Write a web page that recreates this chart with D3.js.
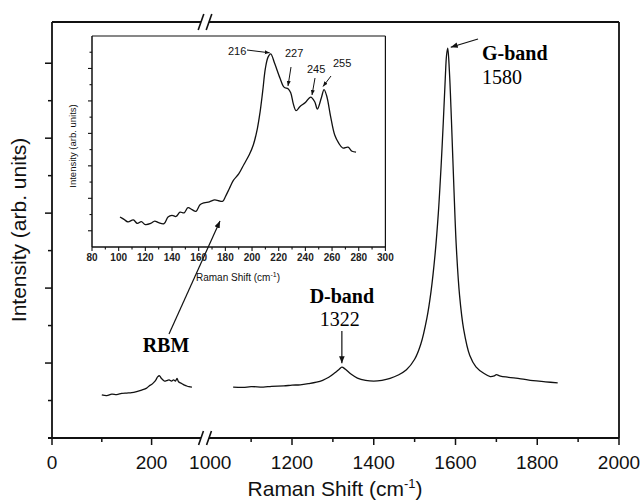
<!DOCTYPE html>
<html><head><meta charset="utf-8">
<script src="https://cdn.jsdelivr.net/npm/d3@7"></script>
<style>body{margin:0;background:#fff}svg{display:block}</style>
</head><body>
<svg id="c" width="643" height="503"></svg>
<script>
// ---- data ----
const rbmShift = [100,110,120,130,140,150,160,170,180,190,195,200,205,209,212,216,219,222,226,230,235,240,244,248,251,254,258,262,266,270,275,281];
const rbmInt   = [1.15,1.13,1.17,1.16,1.19,1.2,1.21,1.24,1.28,1.33,1.39,1.43,1.49,1.56,1.63,1.66,1.6,1.56,1.52,1.53,1.55,1.52,1.55,1.52,1.59,1.5,1.47,1.44,1.41,1.39,1.37,1.36];
const mainShift = [1056,1080,1100,1130,1150,1180,1200,1220,1240,1260,1275,1290,1305,1315,1322,1330,1345,1360,1380,1400,1420,1440,1460,1480,1500,1515,1530,1540,1550,1558,1565,1570,1575,1578,1581,1585,1590,1596,1602,1610,1620,1635,1650,1670,1685,1695,1700,1710,1730,1760,1790,1820,1850];
const mainInt   = [1.36,1.35,1.37,1.36,1.38,1.39,1.41,1.42,1.45,1.49,1.54,1.62,1.74,1.83,1.89,1.84,1.70,1.60,1.54,1.52,1.54,1.59,1.68,1.82,2.1,2.5,3.2,3.9,4.9,6.0,7.3,8.4,9.6,10.2,10.4,9.8,8.5,6.7,5.1,3.8,2.9,2.2,1.9,1.72,1.64,1.66,1.69,1.65,1.62,1.58,1.53,1.50,1.47];
const insetShift = [101,104,107,111,114,117,120,124,127,130,134,137,140,143,146,149,152,155,158,161,164,168,172,175,178,180,183,186,190,194,198,201,204,206,208,210,212,214,217,221,224,227,229,231,233,236,240,244,247,249,252,254,256,259,262,265,268,272,275,278];
const insetInt   = [1.85,1.7,1.55,1.67,1.45,1.56,1.38,1.45,1.6,1.5,1.44,1.85,1.95,1.88,2.15,2.1,2.42,2.3,2.2,2.6,2.72,2.78,2.9,2.85,2.82,3.1,3.6,4.1,4.5,5.1,5.7,6.3,7.3,8.3,9.6,11.0,11.7,11.9,11.3,10.4,9.85,9.75,9.5,8.8,8.4,8.66,8.9,9.24,8.95,8.5,9.2,9.7,9.3,8.0,6.9,6.4,6.1,6.15,5.9,5.85];
const xTicksLow = [0,200];
const xTicksHigh = [1000,1200,1400,1600,1800,2000];
const insetXTicks = [80,100,120,140,160,180,200,220,240,260,280,300];

const svg = d3.select('#c');
const L=52,R=619,T=22,B=438;
const x1 = d3.scaleLinear().domain([0,200]).range([52,151.6]);
const x2 = d3.scaleLinear().domain([1200,2000]).range([292,619]);
const y = d3.scaleLinear().domain([0,11.1]).range([B,T]);
const BRK=205;

// arrow marker
svg.append('defs').append('marker').attr('id','ah').attr('viewBox','0 0 10 10')
  .attr('refX',10).attr('refY',5).attr('markerWidth',7).attr('markerHeight',7)
  .attr('markerUnits','userSpaceOnUse').attr('orient','auto')
  .append('path').attr('d','M0,1 L10,5 L0,9 Z').attr('fill','#111');

const g = svg.append('g');
// frame
g.append('line').attr('x1',L).attr('x2',L).attr('y1',T).attr('y2',B).attr('stroke','#111').attr('stroke-width',1.8);
g.append('line').attr('x1',R).attr('x2',R).attr('y1',T).attr('y2',B).attr('stroke','#111').attr('stroke-width',1.8);
g.append('line').attr('x1',L-4).attr('x2',R).attr('y1',B).attr('y2',B).attr('stroke','#111').attr('stroke-width',1.8);
g.append('line').attr('x1',L).attr('x2',R).attr('y1',T).attr('y2',T).attr('stroke','#111').attr('stroke-width',1.8);

// x ticks
const tk = (xp,len)=>g.append('line').attr('x1',xp).attr('x2',xp).attr('y1',B).attr('y2',B+len).attr('stroke','#111').attr('stroke-width',1.5);
xTicksLow.forEach(v=>tk(x1(v),7)); tk(x1(100),4);
xTicksHigh.forEach(v=>{ if(v>1000) tk(x2(v),7); });
[1100,1300,1500,1700,1900].forEach(v=>tk(x2(v),4));
const lab = g.append('g').attr('font-family','Liberation Sans, Arial, sans-serif').attr('font-size',19).attr('fill','#111').attr('text-anchor','middle');
xTicksLow.forEach(v=>lab.append('text').attr('x',x1(v)).attr('y',469).text(v));
xTicksHigh.forEach(v=>lab.append('text').attr('x',x2(v)).attr('y',469).text(v));

// y ticks
d3.range(1,11).forEach(i=>{
  const len = i%2===0?7:4;
  g.append('line').attr('x1',L).attr('x2',L-len).attr('y1',y(i)).attr('y2',y(i)).attr('stroke','#111').attr('stroke-width',1.5);
});

// breaks
function brk(yy,h){
  g.append('polygon').attr('points',`${BRK-4-h*0.3},${yy+h} ${BRK+4-h*0.3+0},${yy+h} ${BRK+4+h*0.3},${yy-h} ${BRK-4+h*0.3},${yy-h}`).attr('fill','#fff');
  [-4,4].forEach(d=>g.append('line').attr('x1',BRK+d-h*0.35).attr('y1',yy+h).attr('x2',BRK+d+h*0.35).attr('y2',yy-h).attr('stroke','#111').attr('stroke-width',1.6));
}
brk(B,7); brk(T,8);

// axis titles
g.append('text').attr('transform',`translate(26,230) rotate(-90)`).attr('text-anchor','middle')
  .attr('font-family','Liberation Sans, Arial, sans-serif').attr('font-size',21).attr('fill','#111').text('Intensity (arb. units)');
const xt = g.append('text').attr('x',335).attr('y',496).attr('text-anchor','middle')
  .attr('font-family','Liberation Sans, Arial, sans-serif').attr('font-size',21).attr('fill','#111');
xt.append('tspan').text('Raman Shift (cm');
xt.append('tspan').attr('font-size',13).attr('dy',-8).text('-1');
xt.append('tspan').attr('dy',8).text(')');

// spectra
const ln1 = d3.line().x((d,i)=>x1(rbmShift[i])).y(d=>y(d)).curve(d3.curveCatmullRom);
const ln2 = d3.line().x((d,i)=>x2(mainShift[i])).y(d=>y(d)).curve(d3.curveCatmullRom);
g.append('path').attr('d',ln1(rbmInt)).attr('fill','none').attr('stroke','#111').attr('stroke-width',1.3);
g.append('path').attr('d',ln2(mainInt)).attr('fill','none').attr('stroke','#111').attr('stroke-width',1.3);

// annotations main
const serif = 'Liberation Serif, Times New Roman, serif';
g.append('text').attr('x',482).attr('y',60).attr('font-family',serif).attr('font-weight','bold').attr('font-size',20).text('G-band');
g.append('text').attr('x',482).attr('y',84).attr('font-family',serif).attr('font-size',20).text('1580');
g.append('line').attr('x1',478).attr('y1',39).attr('x2',x2(1581)+3).attr('y2',y(10.4)-1).attr('stroke','#111').attr('stroke-width',1.2).attr('marker-end','url(#ah)');
g.append('text').attr('x',x2(1322)).attr('y',303).attr('text-anchor','middle').attr('font-family',serif).attr('font-weight','bold').attr('font-size',20).text('D-band');
g.append('text').attr('x',x2(1322)-2).attr('y',326).attr('text-anchor','middle').attr('font-family',serif).attr('font-size',20).text('1322');
g.append('line').attr('x1',x2(1322)).attr('y1',331).attr('x2',x2(1322)).attr('y2',y(1.89)-4).attr('stroke','#111').attr('stroke-width',1.2).attr('marker-end','url(#ah)');
g.append('text').attr('x',166).attr('y',352).attr('text-anchor','middle').attr('font-family',serif).attr('font-weight','bold').attr('font-size',20).text('RBM');

// ---- inset ----
const IL=92, IR=385.4, IT=36, IB=247;
const ix = d3.scaleLinear().domain([80,300]).range([IL,IR]);
const iy = d3.scaleLinear().domain([0,13]).range([IB,IT]);
const ig = svg.append('g');
ig.append('line').attr('x1',IL).attr('x2',IR).attr('y1',IT).attr('y2',IT).attr('stroke','#111').attr('stroke-width',1.2);
ig.append('line').attr('x1',IR).attr('x2',IR).attr('y1',IT).attr('y2',IB).attr('stroke','#111').attr('stroke-width',1.2);
ig.append('line').attr('x1',IL).attr('x2',IL).attr('y1',IT).attr('y2',IB).attr('stroke','#111').attr('stroke-width',1.5);
ig.append('line').attr('x1',IL).attr('x2',IR).attr('y1',IB).attr('y2',IB).attr('stroke','#111').attr('stroke-width',1.5);
d3.range(80,301,10).forEach(v=>{
  const maj = v%20===0;
  ig.append('line').attr('x1',ix(v)).attr('x2',ix(v)).attr('y1',IB).attr('y2',IB+(maj?4:2.5)).attr('stroke','#111').attr('stroke-width',1.1);
});
const ilab = ig.append('g').attr('font-family','Liberation Sans, Arial, sans-serif').attr('font-size',10).attr('font-weight','bold').attr('fill','#222').attr('text-anchor','middle');
insetXTicks.forEach(v=>ilab.append('text').attr('x',ix(v)).attr('y',261).text(v));
d3.range(1,13).forEach(i=>{
  const maj = i%2===1;
  ig.append('line').attr('x1',IL).attr('x2',IL-(maj?4:2.5)).attr('y1',iy(i)).attr('y2',iy(i)).attr('stroke','#111').attr('stroke-width',1.1);
});
ig.append('text').attr('transform',`translate(76,146) rotate(-90)`).attr('text-anchor','middle')
  .attr('font-family','Liberation Sans, Arial, sans-serif').attr('font-size',9.5).attr('fill','#111').text('Intensity (arb. units)');
const ixt = ig.append('text').attr('x',238).attr('y',281).attr('text-anchor','middle')
  .attr('font-family','Liberation Sans, Arial, sans-serif').attr('font-size',10).attr('fill','#111');
ixt.append('tspan').text('Raman Shift (cm');
ixt.append('tspan').attr('font-size',7).attr('dy',-4).text('-1');
ixt.append('tspan').attr('dy',4).text(')');
const iln = d3.line().x((d,i)=>ix(insetShift[i])).y(d=>iy(d)).curve(d3.curveCatmullRom);
ig.append('path').attr('d',iln(insetInt)).attr('fill','none').attr('stroke','#111').attr('stroke-width',1.3);

// inset annotations
const af = ig.append('g').attr('font-family','Liberation Sans, Arial, sans-serif').attr('font-size',11).attr('fill','#111');
af.append('text').attr('x',228).attr('y',55).text('216');
af.append('text').attr('x',285).attr('y',57).text('227');
af.append('text').attr('x',307).attr('y',73).text('245');
af.append('text').attr('x',333).attr('y',67).text('255');
const ar = (a,b,c,d)=>ig.append('line').attr('x1',a).attr('y1',b).attr('x2',c).attr('y2',d).attr('stroke','#111').attr('stroke-width',1).attr('marker-end','url(#ah2)');
svg.select('defs').append('marker').attr('id','ah2').attr('viewBox','0 0 10 10')
  .attr('refX',10).attr('refY',5).attr('markerWidth',5).attr('markerHeight',5)
  .attr('markerUnits','userSpaceOnUse').attr('orient','auto')
  .append('path').attr('d','M0,1 L10,5 L0,9 Z').attr('fill','#111');
ar(247,50,ix(214)-1,iy(11.9)-1);
ar(291,67,288,iy(9.8)-2);
ar(315,78,312,iy(9.24)-2);
ar(331,76,323,iy(9.7)-3);
// RBM arrow
g.append('line').attr('x1',169).attr('y1',334).attr('x2',220).attr('y2',221).attr('stroke','#111').attr('stroke-width',1.2).attr('marker-end','url(#ah)');
</script>
</body></html>
